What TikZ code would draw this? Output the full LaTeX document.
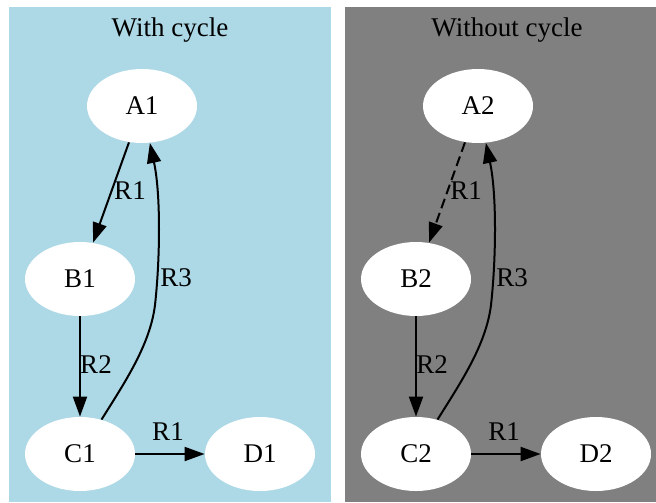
\documentclass[tikz,border=0pt]{standalone}
\usepackage{fontspec}
\setmainfont{Liberation Serif}
\usetikzlibrary{shapes.geometric}
\usetikzlibrary{positioning}
\usetikzlibrary{arrows.meta}
\usepackage{xcolor}
\definecolor{clusterblue}{HTML}{ADD8E6}
\definecolor{clustergray}{HTML}{808080}

\begin{document}
\begin{tikzpicture}[x=0.5pt, y=-0.5pt,
    every node/.style={font=\fontsize{13.5}{16}\selectfont},
    state/.style={ellipse, fill=white, inner sep=0pt, minimum width=55pt, minimum height=37pt},
    rel/.style={line width=1pt, -{Triangle[length=10pt, width=7pt]}},
    reldash/.style={rel, dash pattern=on 5pt off 2.5pt}]
            % page and the two clusters
            \useasboundingbox (0,0) rectangle (656,502);
            \fill[clusterblue] (9,7) rectangle (331,502);
            \fill[clustergray] (345,7) rectangle (656,502);
            \node[anchor=base] (title1) at (170,37) {With cycle};
            \node[anchor=base] (title2) at (507,37) {Without cycle};

            % with cycle
            \node[state] (A1) at (142,106) {A1};
            \node[state] (B1) at (80,279) {B1};
            \node[state] (C1) at (80,454) {C1};
            \node[state] (D1) at (260,454) {D1};

            \draw[rel] (A1) -- (B1);
            \draw[rel] (B1) -- (C1);
            \draw[rel] (C1.58) .. controls (125,382) and (150,345) .. (155,305)
                .. controls (160,260) and (161,195) .. (A1);
            \draw[rel] (C1) -- (D1);
            \node (r1ab) at (130,191) {R1};
            \node (r2bc) at (96,365) {R2};
            \node (r3ca) at (176,278) {R3};
            \node (r1cd) at (168,432) {R1};

            % without cycle
            \node[state] (A2) at (478,106) {A2};
            \node[state] (B2) at (416,279) {B2};
            \node[state] (C2) at (416,454) {C2};
            \node[state] (D2) at (596,454) {D2};

            \draw[reldash] (A2) -- (B2);
            \draw[rel] (B2) -- (C2);
            \draw[rel] (C2.58) .. controls (461,382) and (486,345) .. (491,305)
                .. controls (496,260) and (497,195) .. (A2);
            \draw[rel] (C2) -- (D2);
            \node (r1ab2) at (466,191) {R1};
            \node (r2bc2) at (432,365) {R2};
            \node (r3ca2) at (512,278) {R3};
            \node (r1cd2) at (504,432) {R1};
\end{tikzpicture}
\end{document}
